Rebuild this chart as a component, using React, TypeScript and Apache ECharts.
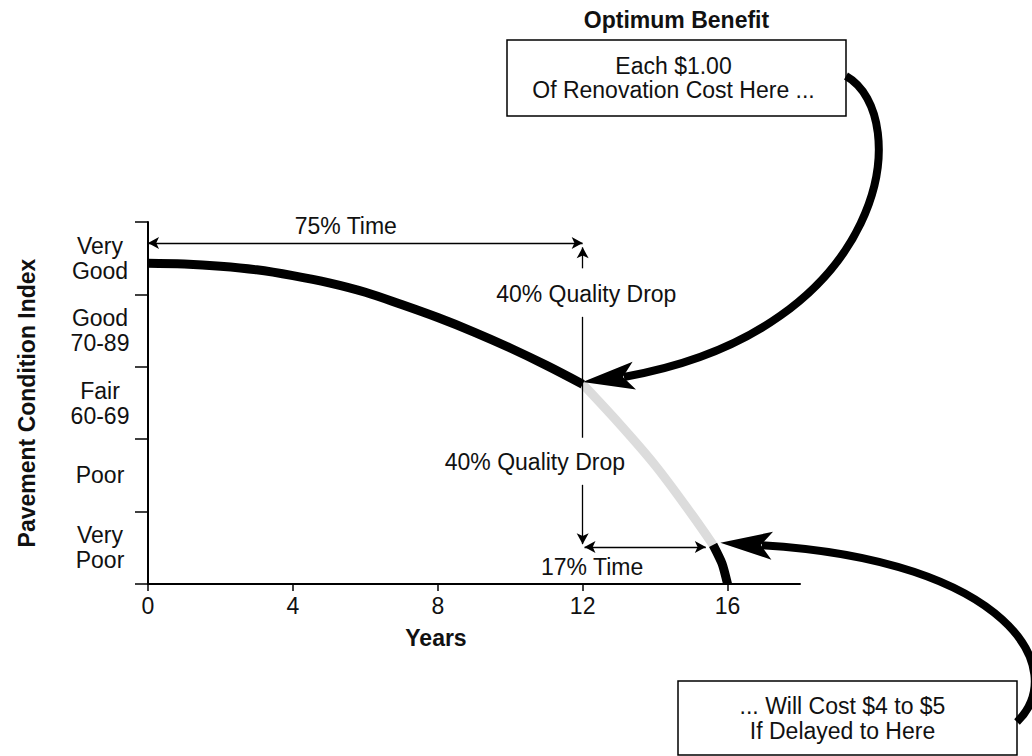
import React, { useEffect, useRef } from 'react';
import * as echarts from 'echarts';

const FONT = '"Liberation Sans", Arial, Helvetica, sans-serif';

// Axis categories / ticks
const conditionBands = ['Very\nPoor', 'Poor', 'Fair\n60-69', 'Good\n70-89', 'Very\nGood'];
const yearTicks = [0, 4, 8, 12, 16];

// Condition index on a 0..5 band scale (0 = bottom of "Very Poor", 5 = top of "Very Good")
const optimumYears = [0, 1, 2, 3, 4, 5, 6, 7, 8, 9, 10, 11, 12];
const optimumIndex = [4.43, 4.42, 4.39, 4.34, 4.26, 4.16, 4.03, 3.86, 3.68, 3.48, 3.26, 3.02, 2.76];

const delayedYears = [12, 13, 14, 15, 15.6];
const delayedIndex = [2.76, 2.22, 1.64, 0.97, 0.54];

const failureYears = [15.6, 15.85, 16];
const failureIndex = [0.54, 0.28, 0];

// Annotation anchors (data coordinates)
const optimumPoint = [12, 2.79];
const delayedPoint = [15.8, 0.57];
const longTimeLevel = 4.71;
const shortTimeLevel = 0.51;

const zip = (xs: number[], ys: number[]) => xs.map((x, i) => [x, ys[i]]);

const arrowHead = (tip: number[], dir: number[], L = 52, w = 14) => {
  const len = Math.hypot(dir[0], dir[1]);
  const d = [dir[0] / len, dir[1] / len];
  const n = [-d[1], d[0]];
  return {
    points: [
      [tip[0], tip[1]],
      [tip[0] + L * d[0] + w * n[0], tip[1] + L * d[1] + w * n[1]],
      [tip[0] + 0.78 * L * d[0], tip[1] + 0.78 * L * d[1]],
      [tip[0] + L * d[0] - w * n[0], tip[1] + L * d[1] - w * n[1]],
    ],
    notch: [tip[0] + 0.8 * L * d[0], tip[1] + 0.8 * L * d[1]],
  };
};

const txt = (x: number, y: number, text: string, extra: any = {}) => ({
  type: 'text',
  x,
  y,
  style: {
    text,
    fill: '#111',
    fontSize: 23,
    fontFamily: FONT,
    align: 'center',
    verticalAlign: 'middle',
    textAlign: 'center',
    textVerticalAlign: 'middle',
    ...extra,
  },
  silent: true,
});

export default function App() {
  const ref = useRef<HTMLDivElement>(null);

  useEffect(() => {
    if (!ref.current) return;
    const chart = echarts.init(ref.current, null, { renderer: 'svg' });

    const lineBase = {
      type: 'line',
      xAxisIndex: 0,
      yAxisIndex: 1,
      showSymbol: false,
      symbol: 'none',
      smooth: 0.35,
      silent: true,
      animation: false,
    };

    chart.setOption({
      animation: false,
      backgroundColor: '#ffffff',
      grid: { left: 148, right: 232, top: 222, bottom: 172 },
      xAxis: {
        type: 'value',
        min: 0,
        max: 18,
        interval: 4,
        splitLine: { show: false },
        axisLine: { show: true, lineStyle: { color: '#000', width: 2 } },
        axisTick: { show: true, length: 7, lineStyle: { color: '#000', width: 1.5 }, customValues: yearTicks },
        axisLabel: { fontSize: 23, color: '#111', fontFamily: FONT, margin: 10, customValues: yearTicks },
      },
      yAxis: [
        {
          type: 'category',
          data: conditionBands,
          boundaryGap: true,
          axisLine: { show: true, lineStyle: { color: '#000', width: 2 } },
          axisTick: { show: true, length: 13, interval: 0, lineStyle: { color: '#000', width: 1.5 } },
          axisLabel: {
            interval: 0,
            fontSize: 23,
            lineHeight: 25,
            color: '#111',
            fontFamily: FONT,
            align: 'center',
            margin: 48,
          },
          splitLine: { show: false },
          name: 'Pavement Condition Index',
          nameLocation: 'middle',
          nameGap: 110,
          nameTextStyle: { fontSize: 23, fontWeight: 'bold', color: '#111', fontFamily: FONT },
        },
        { type: 'value', min: 0, max: 5, show: false },
      ],
      series: [
        {
          ...lineBase,
          name: 'Delayed',
          data: zip(delayedYears, delayedIndex),
          lineStyle: { color: '#dcdcdc', width: 9 },
          z: 2,
        },
        {
          ...lineBase,
          name: 'Optimum',
          data: zip(optimumYears, optimumIndex),
          lineStyle: { color: '#000', width: 9 },
          z: 3,
          markLine: {
            silent: true,
            animation: false,
            symbol: ['arrow', 'arrow'],
            symbolSize: [9, 11],
            lineStyle: { color: '#000', width: 1.3, type: 'solid' },
            label: { show: false },
            emphasis: { disabled: true },
            data: [
              [{ coord: [0, longTimeLevel] }, { coord: [12, longTimeLevel] }],
              [{ coord: [12, 4.36], symbol: 'none' }, { coord: [12, 4.65] }],
              [{ coord: [12, 3.69], symbol: 'none' }, { coord: [12, 2.02], symbol: 'none' }],
              [{ coord: [12, 1.37], symbol: 'none' }, { coord: [12, 0.55] }],
              [{ coord: [12.05, shortTimeLevel] }, { coord: [15.4, shortTimeLevel] }],
            ],
          },
        },
        {
          ...lineBase,
          name: 'Failure',
          data: zip(failureYears, failureIndex),
          smooth: 0.2,
          lineStyle: { color: '#000', width: 9 },
          z: 3,
        },
      ],
    });

    const toPx = (p: number[]) =>
      chart.convertToPixel({ xAxisIndex: 0, yAxisIndex: 1 }, p) as number[];

    const tip1 = toPx(optimumPoint);
    const tip2 = toPx(delayedPoint);
    const head1 = arrowHead(tip1, [53, -6.5]);
    const head2 = arrowHead(tip2, [52, 3]);

    const box1 = { x: 507, y: 40, w: 339, h: 76 };
    const box2 = { x: 678, y: 681, w: 339, h: 74 };

    const l75 = toPx([5.46, 4.94]);
    const q1 = toPx([12.1, 4.0]);
    const q2 = toPx([10.68, 1.69]);
    const l17 = toPx([12.26, 0.24]);
    const yrs = toPx([7.95, -0.75]);

    chart.setOption({
      graphic: [
        txt(box1.x + box1.w / 2, 20, 'Optimum Benefit', { fontWeight: 'bold' }),
        {
          type: 'rect',
          shape: { x: box1.x, y: box1.y, width: box1.w, height: box1.h },
          style: { fill: '#fff', stroke: '#000', lineWidth: 1.5 },
          silent: true,
        },
        txt(box1.x + box1.w / 2 - 3, box1.y + box1.h / 2, 'Each $1.00\nOf Renovation Cost Here ...', { lineHeight: 24 }),
        {
          type: 'rect',
          shape: { x: box2.x, y: box2.y, width: box2.w, height: box2.h },
          style: { fill: '#fff', stroke: '#000', lineWidth: 1.5 },
          silent: true,
        },
        txt(box2.x + box2.w / 2 - 5, box2.y + box2.h / 2, '... Will Cost $4 to $5\nIf Delayed to Here', { lineHeight: 25 }),
        {
          type: 'bezierCurve',
          shape: {
            x1: box1.x + box1.w, y1: 76,
            cpx1: 915, cpy1: 115,
            cpx2: 890, cpy2: 330,
            x2: head1.notch[0], y2: head1.notch[1],
          },
          style: { stroke: '#000', lineWidth: 8, fill: 'none' },
          silent: true,
          z: 10,
        },
        { type: 'polygon', shape: { points: head1.points }, style: { fill: '#000' }, silent: true, z: 10 },
        {
          type: 'bezierCurve',
          shape: {
            x1: box2.x + box2.w, y1: 722,
            cpx1: 1070, cpy1: 670,
            cpx2: 1010, cpy2: 560,
            x2: head2.notch[0], y2: head2.notch[1],
          },
          style: { stroke: '#000', lineWidth: 8, fill: 'none' },
          silent: true,
          z: 10,
        },
        { type: 'polygon', shape: { points: head2.points }, style: { fill: '#000' }, silent: true, z: 10 },
        txt(l75[0], l75[1], '75% Time'),
        txt(q1[0], q1[1], '40% Quality Drop'),
        txt(q2[0], q2[1], '40% Quality Drop'),
        txt(l17[0], l17[1], '17% Time'),
        txt(yrs[0], yrs[1], 'Years', { fontWeight: 'bold' }),
      ],
    });

    return () => chart.dispose();
  }, []);

  return (
    <div
      ref={ref}
      style={{ position: 'absolute', left: 0, top: 0, width: 1032, height: 756, background: '#fff' }}
    />
  );
}
